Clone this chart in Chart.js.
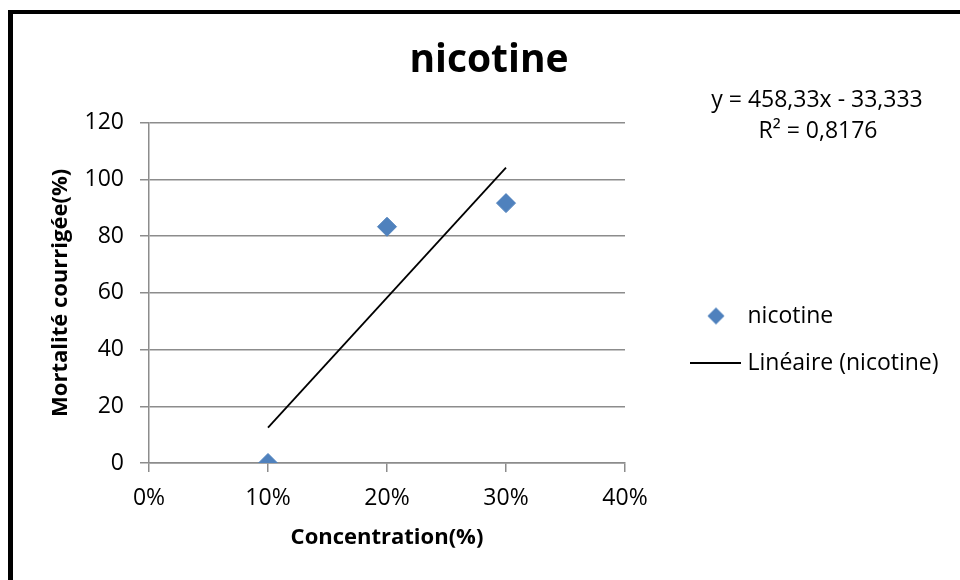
<!DOCTYPE html>
<html>
<head>
<meta charset="utf-8">
<script src="https://cdn.jsdelivr.net/npm/chart.js@4.4.1/dist/chart.umd.min.js"></script>
<style>
  html, body { margin: 0; padding: 0; background: #ffffff; }
  canvas { display: block; }
</style>
</head>
<body>
<canvas id="c" width="960" height="580"></canvas>
<script>
// ---- data ----
const chartTitle = 'nicotine';
const seriesName = 'nicotine';
const trendName = 'Linéaire (nicotine)';
const xAxisTitle = 'Concentration(%)';
const yAxisTitle = 'Mortalité courrigée(%)';
const concentrations = [0.1, 0.2, 0.3];
const mortality = [0, 83.33, 91.67];
const trendX = [0.1, 0.3];
const trendY = [12.5, 104.17];
const xTickValues = [0, 0.1, 0.2, 0.3, 0.4];
const xTickLabels = ['0%', '10%', '20%', '30%', '40%'];
const yTickValues = [0, 20, 40, 60, 80, 100, 120];
const equationLines = ['y = 458,33x - 33,333', 'R² = 0,8176'];

// ---- styles ----
const BLUE = '#4F81BD';
const GRID = '#8c8c8c';
const FONT = '"Open Sans", "DejaVu Sans", sans-serif';

Chart.defaults.font.family = FONT;
Chart.defaults.color = '#000000';

function makeDiamondImage() {
  const c = document.createElement('canvas');
  c.width = 65; c.height = 21;
  const g = c.getContext('2d');
  g.fillStyle = BLUE;
  g.beginPath();
  g.moveTo(56 - 8.5, 10.5);
  g.lineTo(56, 2);
  g.lineTo(56 + 8.5, 10.5);
  g.lineTo(56, 19);
  g.closePath();
  g.fill();
  return c;
}
function makeLineImage() {
  const c = document.createElement('canvas');
  c.width = 97; c.height = 4;
  const g = c.getContext('2d');
  g.fillStyle = '#000000';
  g.fillRect(46, 1, 51, 2);
  return c;
}
const diamondImg = makeDiamondImage();
const lineImg = makeLineImage();

const decor = {
  id: 'decor',
  beforeDraw(chart) {
    const ctx = chart.ctx;
    ctx.save();
    ctx.fillStyle = '#ffffff';
    ctx.fillRect(0, 0, chart.width, chart.height);
    ctx.fillStyle = '#000000';
    ctx.fillRect(8, 10, 5, chart.height - 10);
    ctx.fillRect(8, 10, chart.width - 8, 4);
    ctx.restore();
  },
  afterDraw(chart) {
    const ctx = chart.ctx;
    ctx.save();
    ctx.fillStyle = '#000000';
    ctx.font = '23px ' + FONT;
    ctx.textAlign = 'center';
    ctx.textBaseline = 'alphabetic';
    ctx.fillText(equationLines[0], 817, 107);
    ctx.fillText(equationLines[1], 818, 138);
    ctx.restore();
  }
};

new Chart(document.getElementById('c'), {
  type: 'scatter',
  data: {
    datasets: [
      {
        label: seriesName,
        data: concentrations.map((x, i) => ({ x: x, y: mortality[i] })),
        pointStyle: 'rectRot',
        pointRadius: 9.5,
        pointBackgroundColor: BLUE,
        pointBorderColor: BLUE,
        pointBorderWidth: 1,
        showLine: false
      },
      {
        label: trendName,
        data: trendX.map((x, i) => ({ x: x, y: trendY[i] })),
        showLine: true,
        borderColor: '#000000',
        borderWidth: 1.8,
        pointRadius: 0,
        fill: false
      }
    ]
  },
  options: {
    responsive: false,
    animation: false,
    devicePixelRatio: 1,
    layout: { padding: { left: 38, right: 20, top: 0, bottom: 0 } },
    plugins: {
      tooltip: { enabled: false },
      title: {
        display: true,
        text: chartTitle,
        color: '#000000',
        font: { size: 39, weight: 'bold', lineHeight: 1.2 },
        padding: { top: 37, bottom: 39 }
      },
      legend: {
        display: true,
        position: 'right',
        maxWidth: 315,
        title: { display: true, text: ' ', font: { size: 10, lineHeight: 1 }, padding: { top: 89, bottom: 0 } },
        labels: {
          usePointStyle: true,
          pointStyleWidth: 87,
          padding: 24,
          color: '#000000',
          font: { size: 23 },
          generateLabels: () => [
            { text: seriesName, pointStyle: diamondImg, fillStyle: BLUE, strokeStyle: BLUE, lineWidth: 0, hidden: false, datasetIndex: 0 },
            { text: trendName, pointStyle: lineImg, fillStyle: '#000', strokeStyle: '#000', lineWidth: 0, hidden: false, datasetIndex: 1 }
          ]
        }
      }
    },
    scales: {
      x: {
        type: 'linear',
        min: 0,
        max: 0.4,
        afterBuildTicks: (s) => { s.ticks = xTickValues.map(v => ({ value: v })); },
        afterFit: (s) => { s.height = 117; },
        ticks: {
          callback: (v, i) => xTickLabels[i],
          font: { size: 23 },
          color: '#000000',
          padding: 13,
          maxRotation: 0
        },
        grid: { drawOnChartArea: false, drawTicks: true, tickLength: 9, color: GRID, lineWidth: 1.5 },
        border: { display: true, color: GRID, width: 1.5 },
        title: {
          display: true,
          text: xAxisTitle,
          color: '#000000',
          font: { size: 22, weight: 'bold', lineHeight: 1.2 },
          padding: { top: 0, bottom: 29 }
        }
      },
      y: {
        type: 'linear',
        min: 0,
        max: 120,
        afterBuildTicks: (s) => { s.ticks = yTickValues.map(v => ({ value: v })); },
        afterFit: (s) => { s.width = 111; },
        ticks: {
          font: { size: 23 },
          color: '#000000',
          padding: 16
        },
        grid: { drawOnChartArea: true, drawTicks: true, tickLength: 9, color: GRID, lineWidth: 1.5 },
        border: { display: true, color: GRID, width: 1.5 },
        title: {
          display: true,
          text: yAxisTitle,
          color: '#000000',
          font: { size: 22, weight: 'bold', lineHeight: 1.2 },
          padding: { top: 9.8, bottom: 0 }
        }
      }
    }
  },
  plugins: [decor]
});
</script>
</body>
</html>
